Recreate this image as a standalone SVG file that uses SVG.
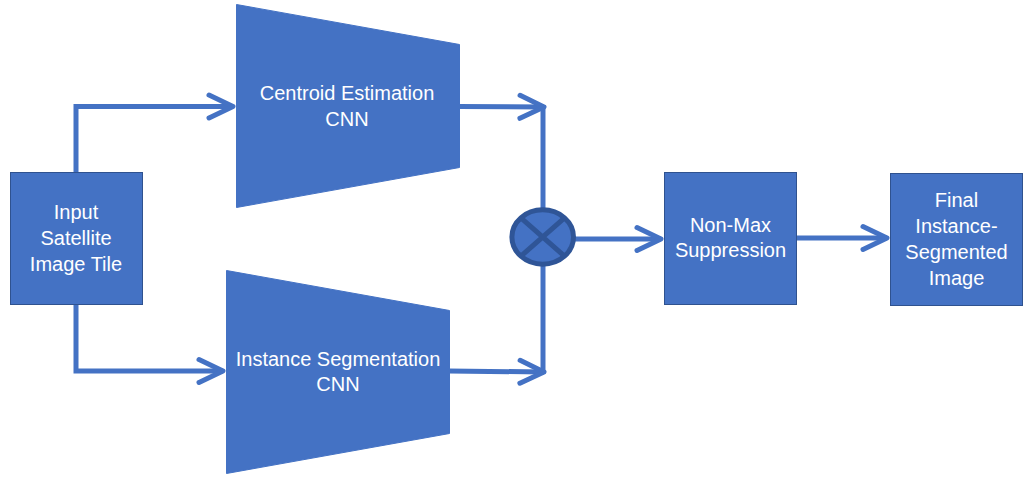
<svg xmlns="http://www.w3.org/2000/svg" width="1034" height="482" viewBox="0 0 1034 482">
<defs>
<style>
.box{fill:#4472C4;stroke:#2F528F;stroke-width:1}
.trap{fill:#4472C4;stroke:#4472C4;stroke-width:1}
.lbl{font-family:"Liberation Sans",Arial,sans-serif;font-size:20px;fill:#FFFFFF;text-anchor:middle}
.conn{fill:none;stroke:#4472C4;stroke-width:5;stroke-linejoin:miter}
.head{fill:none;stroke:#4472C4;stroke-width:5;stroke-linecap:round;stroke-linejoin:round}
</style>
<marker id="arr" markerUnits="userSpaceOnUse" viewBox="-30 -16 34 32" markerWidth="34" markerHeight="32" refX="0" refY="0" orient="auto" overflow="visible">
<path d="M-24,-11.5 L0,0 L-24,11.5" class="head"/>
</marker>
</defs>
<g id="connectors">
<path class="conn" d="M76,172 V106.5 H233" marker-end="url(#arr)"/>
<path class="conn" d="M76,304 V371 H223" marker-end="url(#arr)"/>
<path class="conn" d="M459,106.5 L544,107" marker-end="url(#arr)"/>
<path class="conn" d="M449,371 L544,372" marker-end="url(#arr)"/>
<path class="conn" d="M543,105 V210"/>
<path class="conn" d="M543,264 V374"/>
<path class="conn" d="M574,239 H661" marker-end="url(#arr)"/>
<path class="conn" d="M797,238 H887" marker-end="url(#arr)"/>
</g>
<g id="input">
<rect class="box" x="10.5" y="172.5" width="132" height="132"/>
<text class="lbl" x="76" y="219">Input</text>
<text class="lbl" x="76" y="245">Satellite</text>
<text class="lbl" x="76" y="271">Image Tile</text>
</g>
<g id="centroid-cnn">
<polygon class="trap" points="236.5,4.5 459.5,44.5 459.5,167.5 236.5,207.5"/>
<text class="lbl" x="347" y="100">Centroid Estimation</text>
<text class="lbl" x="347" y="125.5">CNN</text>
</g>
<g id="segmentation-cnn">
<polygon class="trap" points="226.5,270.5 449.5,310.5 449.5,433.5 226.5,473.5"/>
<text class="lbl" x="338" y="365.5">Instance Segmentation</text>
<text class="lbl" x="338" y="391">CNN</text>
</g>
<g id="multiply">
<ellipse cx="542.7" cy="237" rx="30.8" ry="27.2" fill="#4472C4" stroke="#2F5597" stroke-width="5"/>
<path d="M520.9,217.8 L564.5,256.2 M564.5,217.8 L520.9,256.2" stroke="#2F5597" stroke-width="5" fill="none"/>
</g>
<g id="nms">
<rect class="box" x="664.5" y="172.5" width="132" height="132"/>
<text class="lbl" x="730.5" y="232">Non-Max</text>
<text class="lbl" x="730.5" y="257">Suppression</text>
</g>
<g id="final">
<rect class="box" x="890.5" y="173.5" width="132" height="132"/>
<text class="lbl" x="956.5" y="207">Final</text>
<text class="lbl" x="956.5" y="233">Instance-</text>
<text class="lbl" x="956.5" y="259">Segmented</text>
<text class="lbl" x="956.5" y="285">Image</text>
</g>
</svg>
